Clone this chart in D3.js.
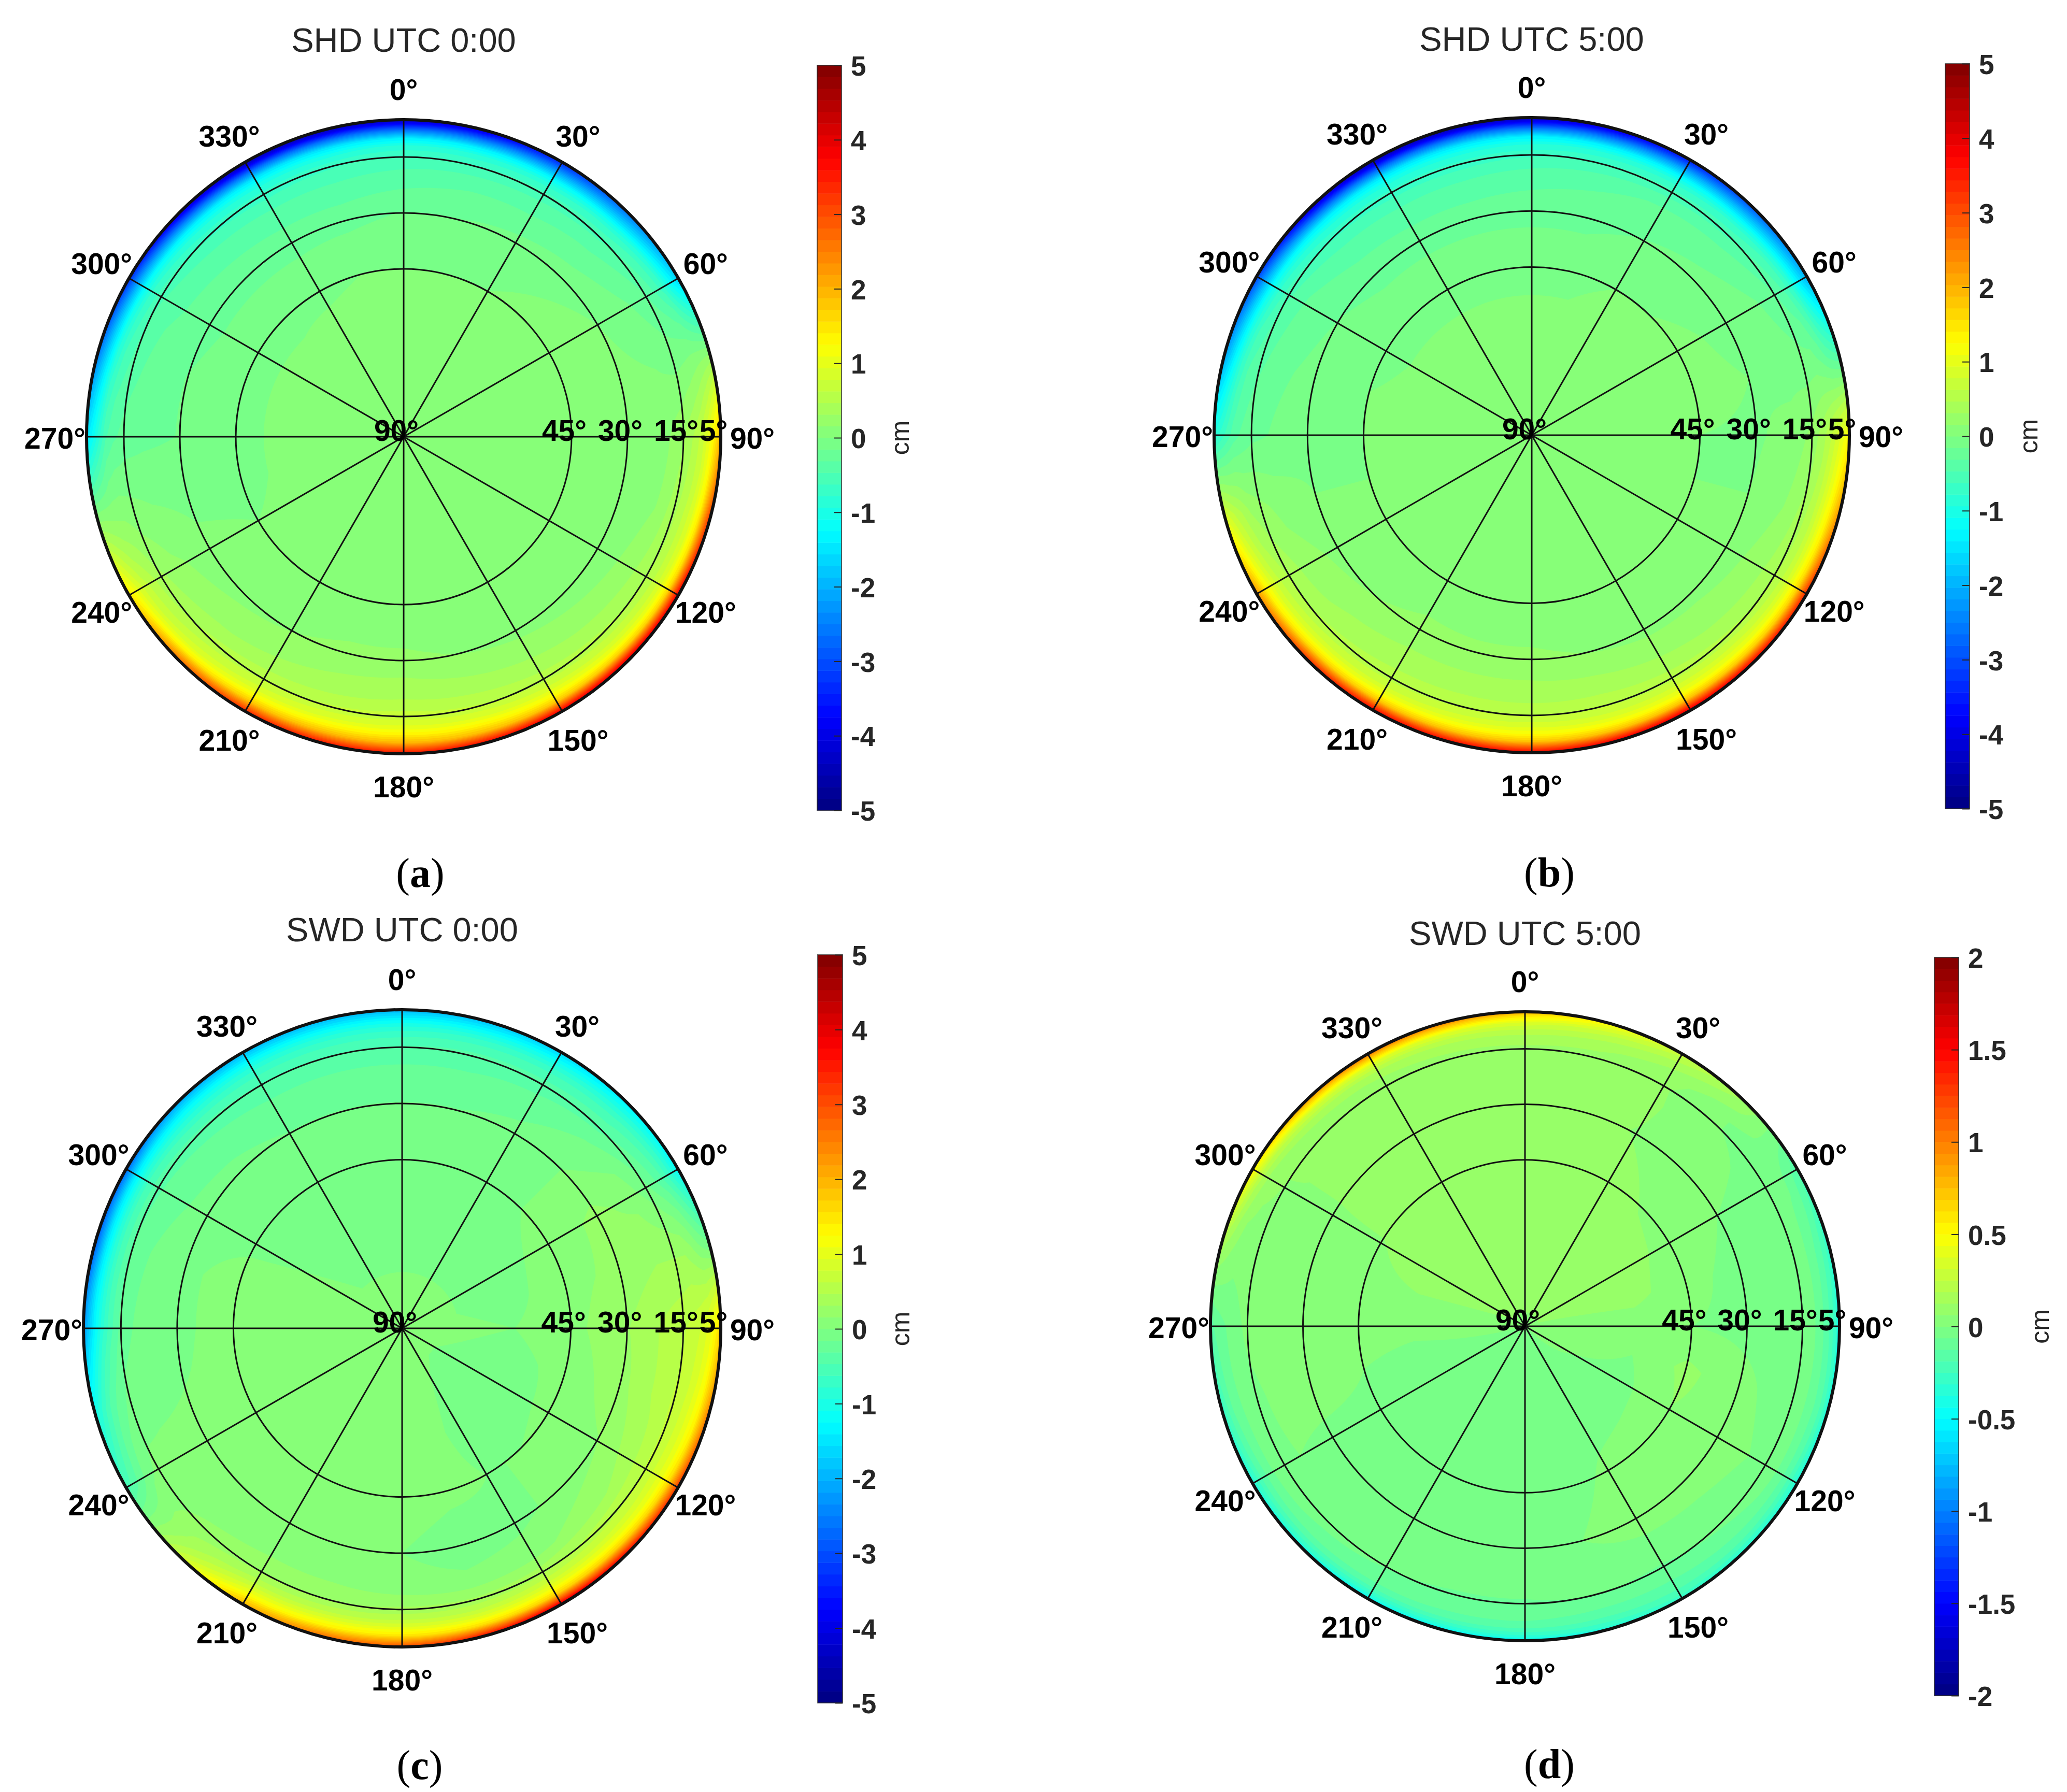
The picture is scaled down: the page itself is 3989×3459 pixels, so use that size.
<!DOCTYPE html>
<html>
<head>
<meta charset="utf-8">
<title>SHD / SWD polar maps</title>
<script src="https://cdnjs.cloudflare.com/ajax/libs/d3/7.8.5/d3.min.js"></script>
<style>
  html, body { margin: 0; padding: 0; background: #fff; }
  svg { display: block; }
  text { font-family: "Liberation Sans", Arial, sans-serif; }
</style>
</head>
<body>
<svg id="chart" width="3989" height="3459"></svg>
<script>
// grid the values were read on (one row per azimuth, one column per elevation)
const azimuths = [0, 15, 30, 45, 60, 75, 90, 105, 120, 135, 150, 165, 180, 195, 210, 225, 240, 255, 270, 285, 300, 315, 330, 345];
const elevations = [5, 6, 8, 10, 12, 15, 20, 30, 45, 60, 90];

const shd0 = [
  [-4.3, -3.8, -2.5, -1.4, -0.9, -0.6, -0.4, -0.15, 0, 0.1, 0.05],
  [-4.1, -3.6, -2.4, -1.4, -0.9, -0.6, -0.35, -0.15, 0, 0.1, 0.05],
  [-3.4, -3.0, -2.1, -1.3, -0.85, -0.55, -0.35, -0.1, 0, 0.1, 0.05],
  [-2.6, -2.3, -1.7, -1.1, -0.75, -0.5, -0.3, -0.05, 0.05, 0.1, 0.05],
  [-1.7, -1.5, -1.1, -0.7, -0.5, -0.3, -0.15, 0, 0.1, 0.1, 0.05],
  [0.2, 0.15, 0.1, 0.05, 0, -0.05, 0, 0.05, 0.1, 0.1, 0.05],
  [2.0, 1.6, 1.05, 0.7, 0.5, 0.3, 0.1, 0, 0.05, 0.1, 0.05],
  [3.3, 2.7, 1.45, 0.9, 0.65, 0.4, 0.15, 0, 0, 0.05, 0.05],
  [4.0, 3.2, 1.65, 1.0, 0.7, 0.45, 0.25, 0, 0, 0.05, 0.05],
  [4.1, 3.4, 1.75, 1.05, 0.75, 0.5, 0.3, 0.05, 0, 0.05, 0.05],
  [4.0, 3.3, 1.8, 1.2, 0.85, 0.55, 0.35, 0.1, 0, 0.05, 0.05],
  [3.8, 3.2, 1.9, 1.35, 0.95, 0.65, 0.4, 0.15, 0, 0.05, 0.05],
  [3.7, 3.1, 1.95, 1.4, 1.0, 0.7, 0.45, 0.2, 0, 0.05, 0.05],
  [3.7, 3.1, 1.95, 1.35, 0.95, 0.65, 0.4, 0.2, 0, 0.05, 0.05],
  [3.5, 2.9, 1.8, 1.2, 0.85, 0.6, 0.35, 0.15, 0, 0.05, 0.05],
  [2.7, 2.3, 1.4, 0.9, 0.7, 0.5, 0.3, 0.1, 0, 0.05, 0.05],
  [1.5, 1.3, 0.95, 0.7, 0.55, 0.35, 0.2, 0.05, 0, 0.05, 0.05],
  [0.1, 0.1, 0.1, 0.1, 0.1, 0.05, 0, -0.05, -0.05, 0.05, 0.05],
  [-1.5, -1.3, -0.9, -0.5, -0.35, -0.25, -0.2, -0.15, -0.05, 0.05, 0.05],
  [-2.6, -2.2, -1.5, -0.9, -0.6, -0.4, -0.25, -0.15, -0.05, 0.05, 0.05],
  [-3.4, -2.9, -2.0, -1.2, -0.8, -0.5, -0.35, -0.2, -0.05, 0.05, 0.05],
  [-4.2, -3.6, -2.4, -1.4, -0.95, -0.65, -0.4, -0.2, -0.05, 0.05, 0.05],
  [-4.6, -4.0, -2.6, -1.5, -1.0, -0.7, -0.45, -0.2, -0.05, 0.1, 0.05],
  [-4.5, -4.0, -2.6, -1.5, -1.0, -0.65, -0.45, -0.2, 0, 0.1, 0.05]
];

const shd5 = [
  [-4.4, -3.9, -2.5, -1.4, -0.95, -0.65, -0.4, -0.2, -0.05, 0.05, 0.1],
  [-4.1, -3.6, -2.4, -1.4, -0.9, -0.6, -0.35, -0.2, -0.05, 0.05, 0.1],
  [-3.6, -3.1, -2.1, -1.3, -0.85, -0.55, -0.3, -0.15, 0, 0.1, 0.1],
  [-2.9, -2.5, -1.8, -1.15, -0.75, -0.5, -0.25, -0.1, 0, 0.1, 0.1],
  [-2.0, -1.8, -1.3, -0.8, -0.5, -0.3, -0.15, -0.05, 0.05, 0.1, 0.1],
  [-0.5, -0.45, -0.35, -0.2, -0.1, -0.1, -0.05, 0, 0.05, 0.1, 0.1],
  [1.3, 1.1, 0.85, 0.6, 0.4, 0.2, 0.05, -0.02, 0, 0.1, 0.1],
  [2.4, 2.0, 1.3, 0.9, 0.6, 0.35, 0.15, 0, 0, 0.05, 0.1],
  [3.5, 2.9, 1.65, 1.05, 0.7, 0.45, 0.25, 0.05, 0, 0.05, 0.1],
  [3.9, 3.2, 1.75, 1.1, 0.8, 0.5, 0.3, 0.1, 0, 0.05, 0.1],
  [4.1, 3.4, 1.85, 1.15, 0.85, 0.55, 0.35, 0.1, 0, 0.05, 0.1],
  [4.0, 3.3, 1.85, 1.2, 0.85, 0.6, 0.4, 0.15, 0, 0.05, 0.1],
  [3.8, 3.2, 1.85, 1.25, 0.9, 0.6, 0.4, 0.2, 0, 0.05, 0.1],
  [3.8, 3.2, 1.85, 1.2, 0.85, 0.6, 0.4, 0.2, 0, 0.05, 0.1],
  [3.8, 3.2, 1.8, 1.15, 0.8, 0.55, 0.4, 0.2, 0.05, 0.05, 0.1],
  [3.4, 2.8, 1.65, 1.05, 0.75, 0.5, 0.35, 0.15, 0, 0.05, 0.1],
  [2.3, 2.0, 1.3, 0.9, 0.65, 0.45, 0.25, 0.1, 0, 0.05, 0.1],
  [0.9, 0.8, 0.6, 0.45, 0.3, 0.2, 0.1, 0, 0, 0.05, 0.1],
  [-0.9, -0.8, -0.6, -0.4, -0.3, -0.2, -0.15, -0.05, 0, 0.05, 0.1],
  [-2.2, -1.9, -1.3, -0.8, -0.5, -0.35, -0.2, -0.1, 0, 0.05, 0.1],
  [-3.2, -2.7, -1.9, -1.2, -0.8, -0.5, -0.3, -0.15, -0.05, 0.05, 0.1],
  [-4.1, -3.6, -2.4, -1.4, -0.95, -0.65, -0.4, -0.2, -0.05, 0.05, 0.1],
  [-4.6, -4.0, -2.6, -1.5, -1.0, -0.7, -0.45, -0.2, -0.05, 0.05, 0.1],
  [-4.6, -4.0, -2.6, -1.5, -1.0, -0.7, -0.45, -0.2, -0.05, 0.05, 0.1]
];

const swd0 = [
  [-2.0, -1.7, -1.2, -0.85, -0.65, -0.45, -0.3, -0.15, -0.05, -0.05, 0.05],
  [-1.9, -1.6, -1.15, -0.8, -0.6, -0.4, -0.3, -0.15, -0.05, -0.05, 0.05],
  [-1.7, -1.45, -1.05, -0.75, -0.55, -0.4, -0.25, -0.1, -0.05, -0.05, 0.05],
  [-1.4, -1.2, -0.9, -0.65, -0.5, -0.35, -0.15, 0, 0, -0.05, 0.05],
  [-1.3, -1.05, -0.7, -0.45, -0.3, -0.1, 0.1, 0.2, 0.05, -0.05, 0.05],
  [-0.1, -0.05, 0.05, 0.2, 0.3, 0.3, 0.3, 0.2, 0.1, -0.05, 0.05],
  [1.7, 1.4, 1.0, 0.8, 0.7, 0.6, 0.5, 0.3, 0.1, 0, 0.05],
  [2.6, 2.1, 1.3, 1.0, 0.8, 0.65, 0.5, 0.25, 0.05, -0.05, 0.05],
  [3.4, 2.7, 1.6, 1.1, 0.85, 0.65, 0.4, 0.15, 0.05, -0.1, 0.05],
  [3.9, 3.1, 1.7, 1.1, 0.8, 0.55, 0.25, 0.05, 0, -0.1, 0.05],
  [4.3, 3.3, 1.7, 1.1, 0.75, 0.4, 0.1, -0.05, 0, -0.05, 0.05],
  [3.8, 3.0, 1.6, 1.0, 0.65, 0.35, 0.05, -0.1, 0.05, 0.05, 0.05],
  [3.1, 2.5, 1.5, 1.0, 0.65, 0.35, 0.1, 0, 0.1, 0.1, 0.05],
  [2.7, 2.3, 1.4, 0.95, 0.6, 0.3, 0.15, 0.1, 0.1, 0.1, 0.05],
  [2.0, 1.75, 1.2, 0.85, 0.55, 0.3, 0.15, 0.1, 0.1, 0.1, 0.05],
  [0.7, 0.6, 0.45, 0.35, 0.3, 0.2, 0.1, 0.05, 0.05, 0.1, 0.05],
  [-0.6, -0.5, -0.35, -0.2, -0.05, 0.05, 0.05, 0.05, 0.05, 0.1, 0.1],
  [-1.1, -0.95, -0.65, -0.4, -0.25, -0.1, -0.05, 0, 0.05, 0.1, 0.1],
  [-2.3, -1.9, -1.3, -0.85, -0.55, -0.25, -0.1, -0.05, 0.1, 0.1, 0.1],
  [-2.9, -2.4, -1.5, -0.95, -0.6, -0.3, -0.15, -0.05, 0.1, 0.1, 0.1],
  [-2.8, -2.3, -1.45, -0.95, -0.6, -0.35, -0.2, -0.1, -0.05, 0, 0.05],
  [-2.2, -1.8, -1.25, -0.9, -0.65, -0.4, -0.25, -0.1, -0.05, -0.05, 0.05],
  [-2.0, -1.7, -1.2, -0.85, -0.65, -0.45, -0.3, -0.15, -0.05, -0.05, 0.05],
  [-2.0, -1.7, -1.2, -0.85, -0.65, -0.45, -0.3, -0.15, -0.05, -0.05, 0.05]
];

const swd5 = [
  [0.85, 0.62, 0.36, 0.24, 0.16, 0.11, 0.08, 0.08, 0.08, 0.08, 0.06],
  [0.55, 0.42, 0.27, 0.19, 0.14, 0.1, 0.08, 0.08, 0.08, 0.08, 0.06],
  [0.3, 0.24, 0.17, 0.12, 0.09, 0.07, 0.07, 0.06, 0.08, 0.08, 0.06],
  [0.12, 0.1, 0.07, 0.03, 0, 0, 0.02, 0.04, 0.06, 0.08, 0.06],
  [-0.2, -0.15, -0.1, -0.05, -0.05, -0.03, -0.02, 0, 0.05, 0.08, 0.06],
  [-0.35, -0.25, -0.15, -0.1, -0.05, -0.03, -0.03, -0.03, 0.03, 0.08, 0.06],
  [-0.5, -0.3, -0.18, -0.1, -0.05, -0.03, -0.03, -0.02, 0, 0.03, 0.05],
  [-0.45, -0.28, -0.15, -0.1, -0.05, -0.03, -0.02, 0.02, 0.08, 0, 0.05],
  [-0.45, -0.3, -0.18, -0.1, -0.05, -0.02, 0, 0.03, 0.06, -0.02, 0.02],
  [-0.4, -0.28, -0.17, -0.12, -0.08, -0.05, -0.02, 0.03, 0.03, -0.02, 0],
  [-0.35, -0.25, -0.18, -0.14, -0.1, -0.07, -0.03, 0.03, 0.01, -0.02, 0],
  [-0.45, -0.3, -0.2, -0.15, -0.1, -0.06, -0.03, 0, -0.02, -0.02, 0],
  [-0.55, -0.35, -0.2, -0.13, -0.1, -0.07, -0.04, -0.03, -0.03, -0.02, 0],
  [-0.55, -0.35, -0.2, -0.13, -0.1, -0.07, -0.04, -0.03, -0.03, -0.03, 0],
  [-0.55, -0.35, -0.2, -0.12, -0.08, -0.06, -0.03, -0.02, -0.03, -0.03, 0],
  [-0.5, -0.3, -0.18, -0.1, -0.07, -0.04, -0.02, -0.02, -0.02, -0.02, 0],
  [-0.45, -0.3, -0.18, -0.1, -0.05, -0.03, 0, -0.01, -0.01, -0.02, 0],
  [-0.35, -0.22, -0.12, -0.07, -0.04, -0.02, 0.02, 0.02, 0, -0.02, 0],
  [-0.2, -0.12, -0.08, -0.05, -0.02, 0.02, 0.04, 0.04, 0.03, 0.02, 0.04],
  [0.2, 0.12, 0.07, 0.03, 0.03, 0.04, 0.05, 0.05, 0.05, 0.06, 0.06],
  [0.6, 0.42, 0.22, 0.12, 0.08, 0.06, 0.06, 0.06, 0.06, 0.08, 0.06],
  [0.95, 0.68, 0.32, 0.17, 0.11, 0.08, 0.07, 0.07, 0.08, 0.08, 0.06],
  [1.1, 0.78, 0.36, 0.2, 0.13, 0.09, 0.08, 0.07, 0.08, 0.08, 0.06],
  [1.05, 0.76, 0.38, 0.22, 0.15, 0.1, 0.08, 0.08, 0.08, 0.08, 0.06]
];

// axis labels
const azimuthTicks = [0, 30, 60, 90, 120, 150, 180, 210, 240, 270, 300, 330];
const ringTicks = [45, 30, 15];
const ringLabels = [90, 45, 30, 15, 5];
const colorTicks5 = [-5, -4, -3, -2, -1, 0, 1, 2, 3, 4, 5];
const colorTicks2 = [-2, -1.5, -1, -0.5, 0, 0.5, 1, 1.5, 2];

const panels = [
  { title: "SHD UTC 0:00", tag: "a", field: shd0, ticks: colorTicks5, cx: 779, cy: 843, R: 612, titleY: 100,
    bar: { x: 1577, w: 47, top: 126, bottom: 1564 }, cmX: 1739, tagX: 811, tagY: 1712 },
  { title: "SHD UTC 5:00", tag: "b", field: shd5, ticks: colorTicks5, cx: 2956, cy: 840, R: 613, titleY: 98,
    bar: { x: 3754, w: 47, top: 123, bottom: 1561 }, cmX: 3917, tagX: 2990, tagY: 1711 },
  { title: "SWD UTC 0:00", tag: "c", field: swd0, ticks: colorTicks5, cx: 776, cy: 2564, R: 615, titleY: 1817,
    bar: { x: 1578, w: 48, top: 1843, bottom: 3287 }, cmX: 1740, tagX: 810, tagY: 3434 },
  { title: "SWD UTC 5:00", tag: "d", field: swd5, ticks: colorTicks2, cx: 2943, cy: 2560, R: 607, titleY: 1824,
    bar: { x: 3733, w: 47, top: 1848, bottom: 3273 }, cmX: 3939, tagX: 2990, tagY: 3432 }
];

const TEXT_DARK = "#262626";

// MATLAB jet(64)
function jetColors(n) {
  const clamp = v => Math.max(0, Math.min(1, v));
  return d3.range(n).map(i => {
    const t = (i + 0.5) / n;
    const r = clamp(Math.min(4 * t - 1.5, -4 * t + 4.5));
    const g = clamp(Math.min(4 * t - 0.5, -4 * t + 3.5));
    const b = clamp(Math.min(4 * t + 0.5, -4 * t + 2.5));
    return d3.rgb(r * 255, g * 255, b * 255).formatRgb();
  });
}
const JET = jetColors(64);

// value at any (az, el) between the read points
function sampleField(field, az, el) {
  const a = ((az % 360) + 360) % 360;
  const i0 = Math.floor(a / 15) % azimuths.length;
  const i1 = (i0 + 1) % azimuths.length;
  const ta = a / 15 - Math.floor(a / 15);
  const e = Math.max(5, Math.min(90, el));
  const j1 = Math.min(d3.bisectRight(elevations, e), elevations.length - 1);
  const j0 = j1 - 1;
  const te = (e - elevations[j0]) / (elevations[j1] - elevations[j0]);
  const at = i => field[i][j0] * (1 - te) + field[i][j1] * te;
  return at(i0) * (1 - ta) + at(i1) * ta;
}

function drawPanel(svg, p, idx) {
  const g = svg.append("g");
  const range = d3.max(p.ticks);
  const rScale = d3.scaleLinear().domain([90, 5]).range([0, p.R]);
  const polar = (az, r) => {
    const a = az * Math.PI / 180;
    return [p.cx + r * Math.sin(a), p.cy - r * Math.cos(a)];
  };

  // contour grid in (az, el), wider than the disc so that it closes under the clip
  const dAz = 1.5, dEl = 0.5, az0 = -6, el0 = 3;
  const nx = 249, ny = 175;
  const values = new Float64Array(nx * ny);
  for (let j = 0; j < ny; j++) {
    for (let i = 0; i < nx; i++) {
      values[j * nx + i] = sampleField(p.field, az0 + i * dAz, el0 + j * dEl);
    }
  }

  const edges = d3.range(1, 64).map(k => -range + k * (2 * range) / 64);
  const bands = d3.contours().size([nx, ny]).thresholds(edges)(values);
  const toPolar = d3.geoTransform({
    point(x, y) {
      const az = az0 + (x - 0.5) * dAz;
      const el = el0 + (y - 0.5) * dEl;
      const xy = polar(az, Math.max(0, rScale(el)));
      this.stream.point(xy[0], xy[1]);
    }
  });
  const path = d3.geoPath(toPolar);

  svg.append("clipPath").attr("id", "disc" + idx)
    .append("circle").attr("cx", p.cx).attr("cy", p.cy).attr("r", p.R);

  const disc = g.append("g").attr("clip-path", `url(#disc${idx})`);
  disc.append("circle")
    .attr("cx", p.cx).attr("cy", p.cy).attr("r", p.R)
    .attr("fill", JET[0]);
  disc.selectAll("path")
    .data(bands.filter(d => d.coordinates.length))
    .enter().append("path")
    .attr("d", path)
    .attr("fill", d => JET[edges.indexOf(d.value) + 1]);

  // grid
  g.selectAll("line.spoke")
    .data(azimuthTicks)
    .enter().append("line")
    .attr("class", "spoke")
    .attr("x1", p.cx).attr("y1", p.cy)
    .attr("x2", d => polar(d, p.R)[0])
    .attr("y2", d => polar(d, p.R)[1])
    .attr("stroke", "#111").attr("stroke-width", 3);

  g.selectAll("circle.ring")
    .data(ringTicks)
    .enter().append("circle")
    .attr("class", "ring")
    .attr("cx", p.cx).attr("cy", p.cy)
    .attr("r", d => rScale(d))
    .attr("fill", "none")
    .attr("stroke", "#111").attr("stroke-width", 3);

  g.append("circle")
    .attr("cx", p.cx).attr("cy", p.cy).attr("r", p.R)
    .attr("fill", "none")
    .attr("stroke", "#111").attr("stroke-width", 6);

  // azimuth labels
  g.selectAll("text.az")
    .data(azimuthTicks)
    .enter().append("text")
    .attr("class", "az")
    .attr("x", d => polar(d, p.R + 61)[0])
    .attr("y", d => polar(d, p.R + 61)[1])
    .attr("dy", "0.4em")
    .attr("text-anchor", "middle")
    .attr("font-size", 57).attr("font-weight", "bold").attr("fill", "#000")
    .text(d => d + "°");

  // elevation labels, along the 90° spoke
  g.selectAll("text.el")
    .data(ringLabels)
    .enter().append("text")
    .attr("class", "el")
    .attr("x", d => p.cx + rScale(d) - 14)
    .attr("y", p.cy + 8)
    .attr("text-anchor", "middle")
    .attr("font-size", 57).attr("font-weight", "bold").attr("fill", "#000")
    .text(d => d + "°");

  // title and tag
  g.append("text")
    .attr("x", p.cx).attr("y", p.titleY)
    .attr("text-anchor", "middle")
    .attr("font-size", 65).attr("fill", TEXT_DARK)
    .text(p.title);

  const tag = g.append("text")
    .attr("x", p.tagX).attr("y", p.tagY)
    .attr("text-anchor", "middle")
    .attr("font-size", 80).attr("fill", "#000")
    .style("font-family", '"Liberation Serif", "Times New Roman", serif');
  tag.append("tspan").text("(");
  tag.append("tspan").attr("font-weight", "bold").text(p.tag);
  tag.append("tspan").text(")");

  // colorbar
  const yBar = d3.scaleLinear().domain([-range, range]).range([p.bar.bottom, p.bar.top]);
  const bar = g.append("g");
  bar.selectAll("rect")
    .data(JET)
    .enter().append("rect")
    .attr("x", p.bar.x)
    .attr("width", p.bar.w)
    .attr("y", (d, i) => yBar(-range + (i + 1) * (2 * range) / 64))
    .attr("height", (p.bar.bottom - p.bar.top) / 64 + 0.5)
    .attr("fill", d => d);

  bar.append("rect")
    .attr("x", p.bar.x).attr("y", p.bar.top)
    .attr("width", p.bar.w).attr("height", p.bar.bottom - p.bar.top)
    .attr("fill", "none").attr("stroke", TEXT_DARK).attr("stroke-opacity", 0.7).attr("stroke-width", 2);

  const axis = bar.append("g")
    .attr("transform", `translate(${p.bar.x + p.bar.w},0)`)
    .call(d3.axisRight(yBar).tickValues(p.ticks).tickFormat(d => String(d)).tickSize(-14).tickPadding(18));
  axis.select(".domain").remove();
  axis.selectAll("line").attr("stroke", TEXT_DARK).attr("stroke-width", 2);
  axis.selectAll("text")
    .attr("dy", "0.37em")
    .attr("font-size", 53).attr("font-weight", "bold")
    .attr("fill", TEXT_DARK)
    .style("font-family", '"Liberation Sans", Arial, sans-serif');

  g.append("text")
    .attr("transform", `translate(${p.cmX},${(p.bar.top + p.bar.bottom) / 2}) rotate(-90)`)
    .attr("dy", "0.3em")
    .attr("text-anchor", "middle")
    .attr("font-size", 50).attr("fill", TEXT_DARK)
    .text("cm");
}

const svgEl = d3.select("#chart");
svgEl.append("rect").attr("width", 3989).attr("height", 3459).attr("fill", "#fff");
panels.forEach((p, i) => drawPanel(svgEl, p, i));
</script>
</body>
</html>
